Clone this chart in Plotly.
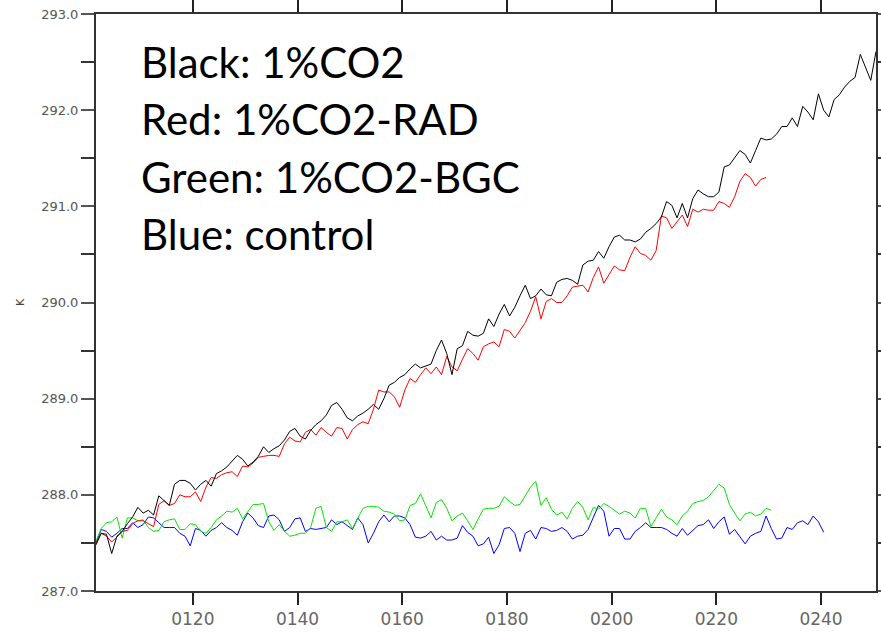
import plotly.graph_objects as go

# ---------------- data (annual global mean surface temperature, K) ----------------
years_black = list(range(101, 251))
black = [287.48, 287.60, 287.59, 287.39, 287.57, 287.62, 287.70, 287.77, 287.87, 287.81,
         287.84, 287.79, 287.99, 287.94, 287.89, 288.11, 288.15, 288.15, 288.12, 288.05,
         288.11, 288.15, 288.09, 288.22, 288.25, 288.29, 288.35, 288.41, 288.37, 288.30,
         288.34, 288.40, 288.50, 288.44, 288.48, 288.51, 288.57, 288.66, 288.69, 288.61,
         288.58, 288.67, 288.73, 288.77, 288.83, 288.93, 288.96, 288.89, 288.80, 288.77,
         288.82, 288.85, 288.89, 288.94, 288.89, 289.00, 289.14, 289.17, 289.22, 289.25,
         289.31, 289.36, 289.32, 289.34, 289.36, 289.50, 289.61, 289.47, 289.25, 289.52,
         289.55, 289.70, 289.66, 289.65, 289.68, 289.83, 289.75, 289.88, 289.98, 289.86,
         289.95, 290.07, 290.18, 290.04, 290.07, 290.14, 290.08, 290.07, 290.21, 290.24,
         290.25, 290.23, 290.19, 290.39, 290.43, 290.44, 290.53, 290.46, 290.58, 290.68,
         290.70, 290.65, 290.65, 290.63, 290.66, 290.73, 290.77, 290.82, 290.89, 291.05,
         291.01, 290.88, 291.03, 290.88, 291.08, 291.17, 291.13, 291.10, 291.10, 291.15,
         291.41, 291.43, 291.50, 291.58, 291.54, 291.45, 291.58, 291.71, 291.69, 291.70,
         291.75, 291.83, 291.83, 291.92, 291.83, 292.04, 291.98, 291.90, 292.17, 292.00,
         291.93, 292.11, 292.16, 292.24, 292.30, 292.34, 292.58, 292.44, 292.31, 292.61]

years_red = list(range(101, 230))
red = [287.50, 287.60, 287.57, 287.51, 287.56, 287.62, 287.63, 287.70, 287.73, 287.73,
       287.70, 287.67, 287.90, 287.94, 287.89, 287.91, 288.00, 287.98, 287.98, 288.03,
       287.93, 288.08, 288.18, 288.17, 288.21, 288.23, 288.24, 288.19, 288.30, 288.29,
       288.33, 288.39, 288.40, 288.41, 288.41, 288.40, 288.53, 288.60, 288.56, 288.55,
       288.65, 288.68, 288.62, 288.70, 288.65, 288.61, 288.70, 288.69, 288.58, 288.68,
       288.73, 288.76, 288.74, 288.89, 289.09, 289.07, 289.07, 289.02, 288.91, 289.09,
       289.21, 289.17, 289.25, 289.32, 289.26, 289.33, 289.25, 289.44, 289.33, 289.29,
       289.41, 289.52, 289.47, 289.40, 289.54, 289.57, 289.59, 289.54, 289.72, 289.70,
       289.63, 289.71, 289.79, 289.91, 290.06, 289.83, 290.01, 290.04, 290.00, 290.00,
       290.07, 290.16, 290.17, 290.18, 290.11, 290.26, 290.37, 290.20, 290.29, 290.38,
       290.34, 290.33, 290.47, 290.58, 290.51, 290.49, 290.44, 290.54, 290.90, 290.88,
       290.77, 290.84, 290.91, 290.79, 290.97, 290.94, 290.97, 290.96, 290.96, 291.05,
       291.03, 290.99, 291.10, 291.26, 291.34, 291.30, 291.21, 291.28, 291.30]

years_green = list(range(101, 231))
green = [287.52, 287.65, 287.71, 287.72, 287.77, 287.55, 287.76, 287.76, 287.73, 287.74,
         287.66, 287.62, 287.63, 287.72, 287.74, 287.75, 287.64, 287.64, 287.70, 287.69,
         287.62, 287.60, 287.66, 287.74, 287.78, 287.83, 287.82, 287.86, 287.75, 287.83,
         287.90, 287.90, 287.91, 287.72, 287.63, 287.69, 287.62, 287.57, 287.58, 287.60,
         287.60, 287.66, 287.86, 287.88, 287.66, 287.62, 287.72, 287.72, 287.74, 287.65,
         287.75, 287.86, 287.88, 287.88, 287.87, 287.83, 287.82, 287.80, 287.73, 287.74,
         287.89, 287.91, 288.01, 287.89, 287.76, 287.92, 287.95, 287.86, 287.73, 287.78,
         287.81, 287.73, 287.64, 287.75, 287.85, 287.86, 287.86, 287.88, 287.98, 287.93,
         287.89, 287.90, 287.99, 288.08, 288.14, 287.89, 287.97, 287.85, 287.79, 287.82,
         287.75, 287.86, 287.93, 287.87, 287.74, 287.87, 287.85, 287.91, 287.88, 287.84,
         287.80, 287.83, 287.81, 287.76, 287.86, 287.86, 287.67, 287.76, 287.85, 287.77,
         287.74, 287.69, 287.78, 287.83, 287.91, 287.93, 287.94, 287.98, 288.04, 288.11,
         288.07, 287.90, 287.81, 287.73, 287.80, 287.82, 287.78, 287.80, 287.86, 287.84]

years_blue = list(range(101, 241))
blue = [287.50, 287.64, 287.62, 287.56, 287.60, 287.65, 287.65, 287.71, 287.66, 287.69,
        287.77, 287.76, 287.71, 287.66, 287.66, 287.66, 287.60, 287.57, 287.47, 287.65,
        287.63, 287.57, 287.63, 287.66, 287.71, 287.66, 287.63, 287.58, 287.72, 287.81,
        287.76, 287.68, 287.66, 287.78, 287.79, 287.74, 287.62, 287.66, 287.75, 287.76,
        287.62, 287.65, 287.64, 287.65, 287.66, 287.74, 287.69, 287.72, 287.68, 287.64,
        287.76, 287.69, 287.50, 287.60, 287.72, 287.79, 287.72, 287.78, 287.78, 287.76,
        287.69, 287.56, 287.55, 287.57, 287.62, 287.53, 287.57, 287.53, 287.53, 287.55,
        287.68, 287.61, 287.57, 287.47, 287.49, 287.56, 287.39, 287.48, 287.65, 287.66,
        287.60, 287.41, 287.60, 287.63, 287.54, 287.66, 287.65, 287.62, 287.63, 287.66,
        287.62, 287.54, 287.57, 287.58, 287.64, 287.77, 287.89, 287.83, 287.57, 287.65,
        287.65, 287.54, 287.54, 287.62, 287.66, 287.71, 287.66, 287.66, 287.66, 287.64,
        287.60, 287.57, 287.65, 287.58, 287.63, 287.68, 287.69, 287.74, 287.65, 287.72,
        287.77, 287.59, 287.64, 287.57, 287.49, 287.57, 287.60, 287.62, 287.78, 287.65,
        287.54, 287.55, 287.66, 287.64, 287.71, 287.73, 287.69, 287.78, 287.72, 287.61]

x_tick_vals = [120, 140, 160, 180, 200, 220, 240]
x_tick_text = ["0120", "0140", "0160", "0180", "0200", "0220", "0240"]
y_tick_vals = [287, 288, 289, 290, 291, 292, 293]
y_tick_text = ["287.0", "288.0", "289.0", "290.0", "291.0", "292.0", "293.0"]
legend_lines = ["Black: 1%CO2", "Red: 1%CO2-RAD", "Green: 1%CO2-BGC", "Blue: control"]

# values are annual means plotted at mid-year
def mid(yrs):
    return [y + 0.5 for y in yrs]

fig = go.Figure()
for yrs, vals, col in [(years_blue, blue, "#0000ff"),
                       (years_green, green, "#00e800"),
                       (years_red, red, "#ff0000"),
                       (years_black, black, "#000000")]:
    fig.add_trace(go.Scatter(x=mid(yrs), y=vals, mode="lines",
                             line=dict(color=col, width=1), showlegend=False,
                             hoverinfo="skip"))

W, H = 881, 632
ml, mr, mt, mb = 96, 5, 14, 41
ph = H - mt - mb
pw = W - ml - mr

line_centers = [63, 120, 178, 235]
for txt, cy in zip(legend_lines, line_centers):
    fig.add_annotation(text=txt, xref="paper", yref="paper",
                       x=(139 - ml) / pw, y=1 - (cy - 1 - mt) / ph,
                       xanchor="left", yanchor="middle", showarrow=False,
                       font=dict(family="Lato", size=42, color="#000000"))

fig.update_layout(
    width=W, height=H,
    margin=dict(l=ml, r=mr, t=mt, b=mb, pad=0, autoexpand=False),
    paper_bgcolor="white", plot_bgcolor="white",
    xaxis=dict(range=[101.5, 250.5], tickvals=x_tick_vals, ticktext=x_tick_text,
               ticks="outside", ticklen=12, tickwidth=1.5, tickcolor="#222",
               showline=True, linecolor="#333", linewidth=2, mirror="ticks",
               showgrid=False, zeroline=False, automargin=False,
               tickfont=dict(family="DejaVu Sans", size=17, color="#666")),
    yaxis=dict(range=[287, 293], tickvals=y_tick_vals, ticktext=y_tick_text,
               ticks="outside", ticklen=13, tickwidth=1.5, tickcolor="#555",
               showline=True, linecolor="#333", linewidth=2, mirror="ticks",
               showgrid=False, zeroline=False, automargin=False,
               minor=dict(tickvals=[287.5, 288.5, 289.5, 290.5, 291.5, 292.5],
                          ticks="outside", ticklen=13, tickwidth=1.5, tickcolor="#333"),
               tickfont=dict(family="DejaVu Sans", size=13, color="#555"),
               title=dict(text="K", font=dict(family="DejaVu Sans", size=11, color="#444"),
                          standoff=14)),
)

fig.write_html("out.html")
